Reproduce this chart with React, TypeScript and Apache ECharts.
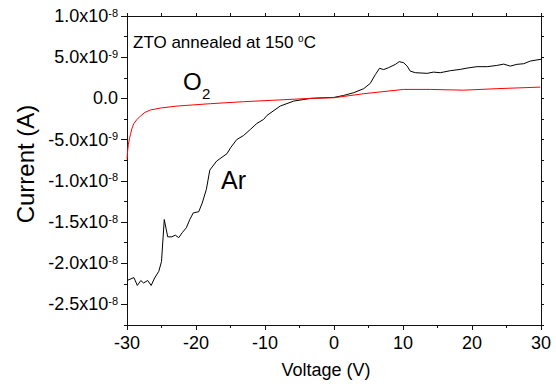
import React, { useEffect, useRef } from "react";
import * as echarts from "echarts";

// Voltage (V) and current (units of 1e-9 A)
const arData: [number, number][] = [
  [-30, -22.1], [-29.0, -21.75], [-28.5, -22.7], [-28.0, -22.1], [-27.6, -22.4], [-27.0, -22.1],
  [-26.5, -22.7], [-26.0, -21.8], [-25.4, -21.0], [-25.0, -19.8], [-24.6, -14.7], [-24.1, -16.8],
  [-23.5, -16.8], [-23.0, -16.6], [-22.5, -16.9], [-22.0, -16.3], [-21.4, -15.7], [-20.9, -14.7],
  [-20.4, -13.9], [-19.6, -13.75], [-19.1, -12.7], [-18.5, -11.05], [-18.0, -8.7], [-17.0, -7.6],
  [-15.5, -6.7], [-15.0, -6.0], [-14.1, -5.0], [-13.1, -4.5], [-12.1, -3.75], [-11.2, -3.05],
  [-10.2, -2.55], [-9.7, -2.06], [-7.8, -0.93], [-5.85, -0.33], [-3.4, 0.0], [-1.5, 0.08],
  [0.0, 0.12], [1.4, 0.36], [2.85, 0.69], [4.3, 1.18], [5.25, 1.82], [6.0, 2.9], [6.6, 3.65],
  [7.2, 3.5], [7.9, 3.73], [8.9, 4.13], [9.45, 4.46], [10.1, 4.33], [10.6, 3.92], [11.05, 3.31],
  [11.8, 3.12], [13.5, 3.04], [14.4, 3.19], [15.4, 3.12], [16.85, 3.36], [18.3, 3.52], [19.3, 3.68],
  [20.7, 3.85], [22.2, 3.85], [23.6, 4.0], [24.6, 4.16], [25.55, 3.92], [26.5, 4.13], [27.5, 4.21],
  [28.45, 4.53], [30, 4.75],
];

const o2Data: [number, number][] = [
  [-30, -7.4], [-29.9, -6.3], [-29.8, -5.6], [-29.65, -4.9], [-29.5, -4.4], [-29.3, -3.7],
  [-29.04, -3.1], [-28.6, -2.6], [-28.07, -2.15], [-27.4, -1.7], [-26.6, -1.4], [-25.0, -1.15],
  [-22.75, -0.93], [-17.9, -0.64], [-13.1, -0.4], [-8.26, -0.2], [-3.43, 0.0],
  [0, 0.08], [4.3, 0.57], [10.1, 1.09], [13.96, 1.09], [18.8, 1.0], [23.6, 1.18], [29.9, 1.37],
];

const xTicks = { min: -30, max: 30, interval: 10 };
const yRange = { min: -27.5, max: 10 };
const yMajorTicks = [-25, -20, -15, -10, -5, 0, 5, 10];

const FONT = "'Liberation Sans', Arial, Helvetica, sans-serif";

function yLabel(v: number): string {
  if (Math.abs(v % 5) > 1e-6) return "";
  if (Math.abs(v) < 1e-9) return "{b|0.0}";
  const exp = Math.abs(v) >= 10 - 1e-9 ? -8 : -9;
  const mant = exp === -8 ? v / 10 : v;
  return `{b|${mant.toFixed(1)}x10}{s|${exp}}`;
}

export default function App() {
  const ref = useRef<HTMLDivElement>(null);
  useEffect(() => {
    if (!ref.current) return;
    const chart = echarts.init(ref.current, undefined, { renderer: "svg" });
    const axisLine = { show: true, onZero: false, lineStyle: { color: "#111", width: 1 } };
    chart.setOption({
      animation: false,
      backgroundColor: "#fff",
      textStyle: { fontFamily: FONT },
      grid: { left: 127, right: 15, top: 16, bottom: 62, containLabel: false, outerBoundsMode: "none" },
      xAxis: [
        {
          type: "value", min: xTicks.min, max: xTicks.max, interval: xTicks.interval, position: "bottom",
          axisLine, splitLine: { show: false },
          axisTick: { show: true, inside: false, length: 5, lineStyle: { color: "#111" } },
          minorTick: { show: true, splitNumber: 2, length: 3, lineStyle: { color: "#111" } },
          axisLabel: { fontSize: 18, color: "#000", margin: 9, fontFamily: FONT },
        },
        {
          type: "value", min: xTicks.min, max: xTicks.max, interval: 5, position: "top",
          axisLine, splitLine: { show: false }, axisLabel: { show: false },
          axisTick: { show: true, inside: false, length: 3, lineStyle: { color: "#111" } },
        },
      ],
      yAxis: [
        {
          type: "value", min: yRange.min, max: yRange.max, interval: 2.5, position: "left",
          axisLine, splitLine: { show: false },
          axisTick: { show: true, inside: false, length: 3, lineStyle: { color: "#111" } },
          axisLabel: {
            formatter: yLabel, margin: 9, color: "#000",
            rich: {
              b: { fontSize: 18, color: "#000", fontFamily: FONT },
              s: { fontSize: 11, color: "#000", fontFamily: FONT, verticalAlign: "top" },
            },
          },
        },
        {
          type: "value", min: yRange.min, max: yRange.max, position: "left",
          axisLine, splitLine: { show: false }, axisLabel: { show: false },
          axisTick: { show: true, inside: false, length: 6, customValues: yMajorTicks, lineStyle: { color: "#111" } },
        },
        {
          type: "value", min: yRange.min, max: yRange.max, interval: 2.5, position: "right",
          axisLine, splitLine: { show: false }, axisLabel: { show: false },
          axisTick: { show: true, inside: false, length: 3, lineStyle: { color: "#111" } },
        },
      ],
      series: [
        {
          name: "Ar", type: "line", data: arData, showSymbol: false, symbol: "none",
          lineStyle: { color: "#000", width: 1 }, xAxisIndex: 0, yAxisIndex: 0,
        },
        {
          name: "O2", type: "line", data: o2Data, showSymbol: false, symbol: "none",
          lineStyle: { color: "#ff0000", width: 1 }, xAxisIndex: 0, yAxisIndex: 0,
        },
      ],
      graphic: [
        {
          type: "text", x: 25, y: 164, rotation: Math.PI / 2,
          style: { text: "Current (A)", fontSize: 24, fontFamily: FONT, fill: "#000", align: "center", verticalAlign: "middle" },
        },
        {
          type: "text", x: 326, y: 370,
          style: { text: "Voltage (V)", fontSize: 18, fontFamily: FONT, fill: "#000", align: "center", verticalAlign: "middle" },
        },
        {
          type: "text", x: 133, y: 42,
          style: {
            text: "{a|ZTO annealed at 150 }{s|o}{a|C}", align: "left", verticalAlign: "middle",
            rich: {
              a: { fontSize: 17, fontFamily: FONT, fill: "#000" },
              s: { fontSize: 10, fontFamily: FONT, fill: "#000", verticalAlign: "top" },
            },
          },
        },
        {
          type: "text", x: 183, y: 81,
          style: { text: "O", fontSize: 24, fontFamily: FONT, fill: "#000", align: "left", verticalAlign: "middle" },
        },
        {
          type: "text", x: 202, y: 93,
          style: { text: "2", fontSize: 15, fontFamily: FONT, fill: "#000", align: "left", verticalAlign: "middle" },
        },
        {
          type: "text", x: 221, y: 180,
          style: { text: "Ar", fontSize: 25, fontFamily: FONT, fill: "#000", align: "left", verticalAlign: "middle" },
        },
      ],
    });
    return () => chart.dispose();
  }, []);
  return <div ref={ref} style={{ position: "fixed", left: 0, top: 0, width: 556, height: 387 }} />;
}
